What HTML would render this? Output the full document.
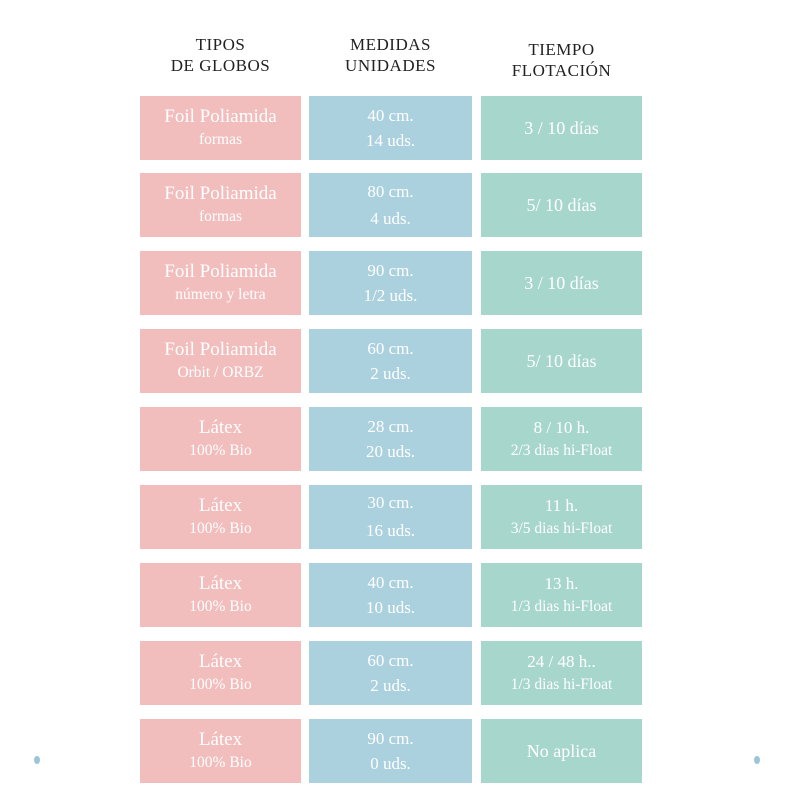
<!DOCTYPE html><html><head><meta charset="utf-8"><style>
body{margin:0;width:800px;height:800px;background:#fff;position:relative;overflow:hidden;font-family:"Liberation Serif",serif}
.h{position:absolute;top:34px;text-align:center;color:#222;font-size:17px;line-height:21px;letter-spacing:0.5px}
.c{position:absolute;height:64px;display:flex;flex-direction:column;justify-content:center;align-items:center;color:#fff;text-align:center}
.p{left:140px;width:161px;background:#f1bebd}
.b{left:309px;width:163px;background:#abd0de}
.g{left:481px;width:161px;background:#a7d6cc}
.a{font-size:19px;line-height:24px}.s{font-size:15.5px;line-height:22px}
.dot{position:absolute;width:6px;height:8px;border-radius:50%;background:#9cc6d6}
</style></head><body>
<div class="h" style="left:140px;width:161px">TIPOS<br>DE GLOBOS</div>
<div class="h" style="left:309px;width:163px">MEDIDAS<br>UNIDADES</div>
<div class="h" style="left:481px;width:161px;top:39px">TIEMPO<br>FLOTACIÓN</div>

<div class="c p" style="top:96px"><div class="a">Foil Poliamida</div><div class="s">formas</div></div>
<div class="c b" style="top:96px"><div class="s" style="font-size:17px;line-height:25px">40 cm.<br>14 uds.</div></div>
<div class="c g" style="top:96px"><div class="a" style="font-size:18px">3 / 10 días</div></div>

<div class="c p" style="top:173px"><div class="a">Foil Poliamida</div><div class="s">formas</div></div>
<div class="c b" style="top:173px"><div class="s" style="font-size:17px;line-height:27px">80 cm.<br>4 uds.</div></div>
<div class="c g" style="top:173px"><div class="a" style="font-size:18px">5/ 10 días</div></div>

<div class="c p" style="top:251px"><div class="a">Foil Poliamida</div><div class="s">número y letra</div></div>
<div class="c b" style="top:251px"><div class="s" style="font-size:17px;line-height:25px">90 cm.<br>1/2 uds.</div></div>
<div class="c g" style="top:251px"><div class="a" style="font-size:18px">3 / 10 días</div></div>

<div class="c p" style="top:329px"><div class="a">Foil Poliamida</div><div class="s">Orbit / ORBZ</div></div>
<div class="c b" style="top:329px"><div class="s" style="font-size:17px;line-height:25px">60 cm.<br>2 uds.</div></div>
<div class="c g" style="top:329px"><div class="a" style="font-size:18px">5/ 10 días</div></div>

<div class="c p" style="top:407px"><div class="a">Látex</div><div class="s">100% Bio</div></div>
<div class="c b" style="top:407px"><div class="s" style="font-size:17px;line-height:25px">28 cm.<br>20 uds.</div></div>
<div class="c g" style="top:407px"><div class="a" style="font-size:17px">8 / 10 h.</div><div class="s">2/3 dias hi-Float</div></div>

<div class="c p" style="top:485px"><div class="a">Látex</div><div class="s">100% Bio</div></div>
<div class="c b" style="top:485px"><div class="s" style="font-size:17px;line-height:28px">30 cm.<br>16 uds.</div></div>
<div class="c g" style="top:485px"><div class="a" style="font-size:17px">11 h.</div><div class="s">3/5 dias hi-Float</div></div>

<div class="c p" style="top:563px"><div class="a">Látex</div><div class="s">100% Bio</div></div>
<div class="c b" style="top:563px"><div class="s" style="font-size:17px;line-height:25px">40 cm.<br>10 uds.</div></div>
<div class="c g" style="top:563px"><div class="a" style="font-size:17px">13 h.</div><div class="s">1/3 dias hi-Float</div></div>

<div class="c p" style="top:641px"><div class="a">Látex</div><div class="s">100% Bio</div></div>
<div class="c b" style="top:641px"><div class="s" style="font-size:17px;line-height:25px">60 cm.<br>2 uds.</div></div>
<div class="c g" style="top:641px"><div class="a" style="font-size:17px">24 / 48 h..</div><div class="s">1/3 dias hi-Float</div></div>

<div class="c p" style="top:719px"><div class="a">Látex</div><div class="s">100% Bio</div></div>
<div class="c b" style="top:719px"><div class="s" style="font-size:17px;line-height:25px">90 cm.<br>0 uds.</div></div>
<div class="c g" style="top:719px"><div class="a" style="font-size:18px">No aplica</div></div>

<div class="dot" style="left:34px;top:756px"></div>
<div class="dot" style="left:754px;top:756px"></div>
</body></html>
